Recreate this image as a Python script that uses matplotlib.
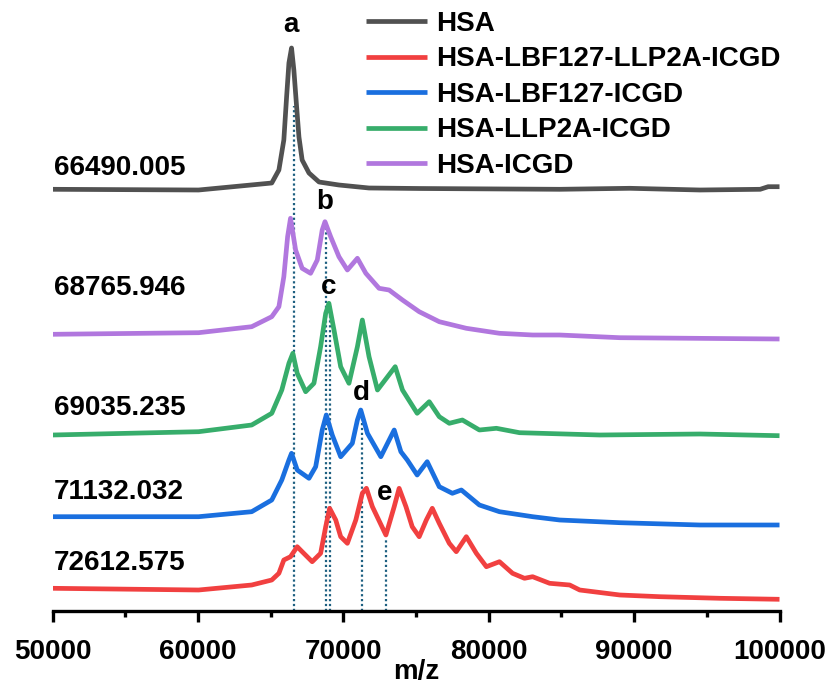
import matplotlib
matplotlib.use("Agg")
import matplotlib.pyplot as plt
import numpy as np

plt.rcParams['font.family'] = ['Liberation Sans', 'DejaVu Sans']
plt.rcParams['font.weight'] = 'bold'

# ---------------- data ----------------
series_names = ["HSA", "HSA-LBF127-LLP2A-ICGD", "HSA-LBF127-ICGD", "HSA-LLP2A-ICGD", "HSA-ICGD"]
series_colors = ["#515151", "#F14040", "#1A6FDF", "#37AD6B", "#B177DE"]

hsa_mz = [50000, 60050, 65080, 65570, 65910, 66100, 66260, 66440, 66600, 66790, 66950, 67170,
          67640, 68330, 69700, 71770, 75220, 84880, 89710, 94530, 98670, 99220, 100000]
hsa_int = [0.2, -0.5, 6.5, 19.5, 49.5, 92.5, 126.5, 141.5, 119.5, 82.5, 52.5, 29.5,
           16.5, 7.5, 4.5, 1.5, 1.0, 0.2, 1.2, -0.5, 0.2, 2.8, 2.8]

icgd_mz = [50000, 60050, 63700, 65080, 65570, 65910, 66170, 66370, 66720, 67170, 67750, 68210,
           68550, 68740, 69130, 69700, 70280, 70970, 71550, 72460, 73150, 74070, 75220, 76600,
           78460, 80740, 83020, 84880, 89020, 100000]
icgd_int = [0, 1.6, 7.6, 17.6, 27.6, 57.6, 97.6, 116, 84.3, 66, 61, 74.3,
            104.3, 112.6, 97.6, 77.6, 64.3, 76, 61, 46, 44.3, 34.3, 22.6, 12.6,
            6, 1, -0.7, -0.7, -3.4, -4.7]

llp_mz = [50000, 60050, 63700, 65080, 65770, 66260, 66530, 66830, 67410, 67980, 68440, 68790,
          69010, 69360, 69820, 70390, 70970, 71310, 71770, 72350, 73570, 74070, 75080, 75910,
          76600, 77290, 78190, 79360, 80530, 82120, 87640, 94530, 100000]
llp_int = [0, 3.3, 10, 21.7, 45, 71.7, 81.7, 61.7, 43.3, 51.7, 88.3, 121.7,
           131.7, 105, 68.3, 51.7, 88.3, 115, 78.3, 45, 68.3, 45, 21.7, 33.3,
           18.3, 11.7, 15, 5, 6.7, 2.3, 0, 1, -0.7]

lbf_mz = [50000, 60050, 63700, 65080, 65770, 66260, 66440, 66830, 67640, 68100, 68550, 68830,
          69240, 69820, 70620, 70970, 71200, 71660, 72580, 73500, 73960, 74400, 75080, 75770,
          76600, 77500, 78120, 79360, 80740, 83020, 84880, 89020, 94530, 100000]
lbf_int = [0, 0, 5, 16.7, 36.7, 56.7, 63.4, 46.7, 38.4, 50, 86.7, 101.7,
           81.7, 60, 73.4, 96.7, 106.7, 83.4, 60, 86.7, 65, 56.7, 41.7, 55,
           30, 23.4, 26.7, 11.7, 5, 0, -3.3, -6, -8.3, -8.3]

both_mz = [50000, 60050, 63700, 65080, 65570, 65910, 66370, 66830, 67170, 67860, 68440, 68790,
           69060, 69480, 69820, 70280, 70860, 71310, 71590, 72000, 72930, 73500, 73840, 74310,
           74740, 75220, 75710, 76120, 76600, 77290, 77770, 78460, 79150, 79840, 80740, 81640,
           82460, 83020, 84190, 85570, 86260, 89020, 91780, 95910, 100000]
both_int = [0, -1.7, 3.3, 8.3, 15, 28.3, 31.6, 41.6, 36.6, 26.6, 35, 61.6,
            80, 68.3, 51.6, 45, 68.3, 95, 100, 81.6, 53.3, 81.6, 100, 81.6,
            61.6, 51.6, 68.3, 80, 65, 45, 36.6, 51.6, 35, 21.6, 26.6, 15,
            10, 11.6, 5, 3.3, -1.7, -6.7, -8.4, -10, -11]

peak_labels = ["66490.005", "68765.946", "69035.235", "71132.032", "72612.575"]
peak_letters = ["a", "b", "c", "d", "e"]
guide_mz = [66575, 68810, 69085, 71305, 72935]   # positions of dotted guides as drawn

x_ticks = [50000, 60000, 70000, 80000, 90000, 100000]

# ---------------- layout ----------------
offsets = {"HSA": 421.5, "HSA-ICGD": 276.7, "HSA-LLP2A-ICGD": 176.0,
           "HSA-LBF127-ICGD": 94.3, "HSA-LBF127-LLP2A-ICGD": 22.7}
data = {"HSA": (hsa_mz, hsa_int),
        "HSA-LBF127-LLP2A-ICGD": (both_mz, both_int),
        "HSA-LBF127-ICGD": (lbf_mz, lbf_int),
        "HSA-LLP2A-ICGD": (llp_mz, llp_int),
        "HSA-ICGD": (icgd_mz, icgd_int)}

W, H = 831, 689
fig = plt.figure(figsize=(W / 100, H / 100), dpi=100)
ax_left, ax_right, ax_bottom, ax_top = 52.5, 779.5, 611, 20
ax = fig.add_axes([ax_left / W, 1 - ax_bottom / H, (ax_right - ax_left) / W, (ax_bottom - ax_top) / H])

lines = []
for name, col in zip(series_names, series_colors):
    mz, inten = data[name]
    y = np.asarray(inten) + offsets[name]
    ln, = ax.plot(mz, y, color=col, lw=3.4, label=name, solid_capstyle='butt',
                  solid_joinstyle='round', zorder=3)
    lines.append(ln)

# dotted guide lines
line_tops = [505, 389, 306, 199, 73]
for mz, top in zip(guide_mz, line_tops):
    ax.plot([mz, mz], [0, top], ls=(0, (1, 1.2)), color="#1d5f80", lw=1.6, zorder=2)

# peak letters
letter_pos = [(66370, 586), (68740, 409), (69010, 324), (71240, 218), (72810, 118)]
for t, (x, y) in zip(peak_letters, letter_pos):
    ax.text(x, y, t, ha='center', va='center', fontsize=20, fontweight='bold', clip_on=False)

# left value labels
label_y = [443, 323, 203, 119, 48]
for t, y in zip(peak_labels, label_y):
    ax.text(50100, y, t, ha='left', va='center', fontsize=20, fontweight='bold')

ax.set_xlim(50000, 100000)
ax.set_ylim(0, ax_bottom - ax_top)
ax.set_xticks(x_ticks)
ax.set_xticklabels([str(v) for v in x_ticks])
ax.set_xticks(np.arange(55000, 100000, 10000), minor=True)
ax.set_yticks([])
for s in ['left', 'right', 'top']:
    ax.spines[s].set_visible(False)
ax.spines['bottom'].set_linewidth(2.4)
ax.tick_params(axis='x', which='major', length=8, width=2.4, direction='out', labelsize=20, pad=12.5)
ax.tick_params(axis='x', which='minor', length=4.5, width=2.4, direction='out')
for lab in ax.get_xticklabels():
    lab.set_fontweight('bold')
ax.set_xlabel("m/z", fontsize=20, fontweight='bold', labelpad=-4.5)
ax.patch.set_alpha(0)

fig.legend(handles=lines, labels=series_names, loc='upper left',
           bbox_to_anchor=(366 / W, 1 - 11 / H), frameon=False,
           handlelength=2.2, handletextpad=0.32, labelspacing=0.34,
           borderpad=0, borderaxespad=0, prop={'weight': 'bold', 'size': 20})

fig.savefig("out.png", dpi=100)
